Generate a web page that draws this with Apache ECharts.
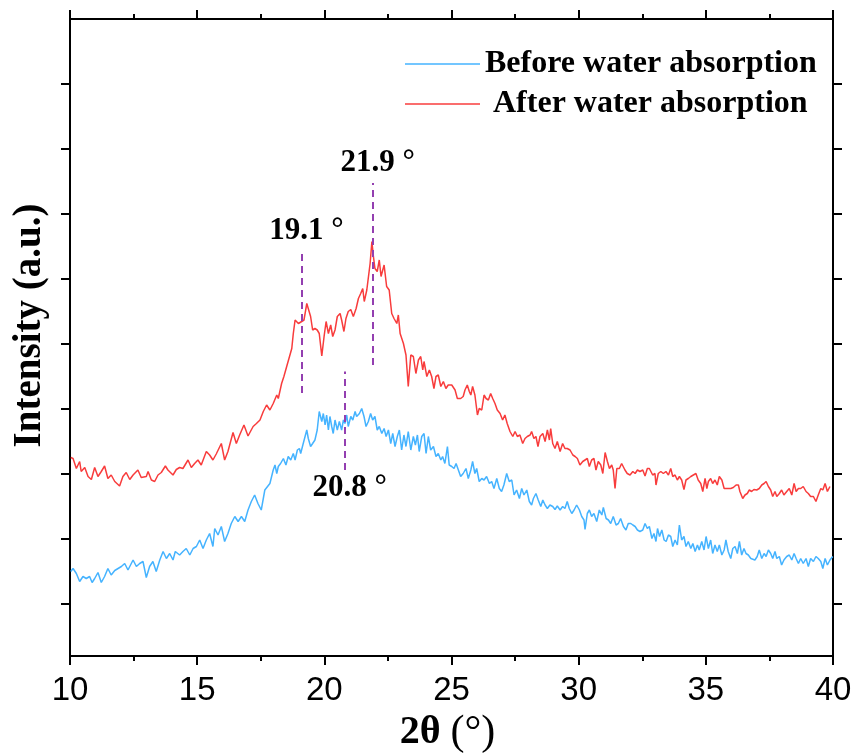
<!DOCTYPE html>
<html>
<head>
<meta charset="utf-8">
<script src="https://cdn.jsdelivr.net/npm/echarts@6/dist/echarts.min.js"></script>
<style>html,body{margin:0;padding:0;background:#fff}#c{width:858px;height:753px}</style>
</head>
<body>
<div id="c"></div>
<script>
// ---- Data (2θ in degrees, intensity in arbitrary units) ----
const beforeX = [
10.03,10.12,10.25,10.38,10.51,10.64,10.77,10.87,10.97,11.10,
11.23,11.36,11.49,11.62,11.76,11.89,12.02,12.15,12.28,12.48,
12.61,12.74,12.87,13.00,13.13,13.26,13.39,13.53,13.66,13.79,
13.92,14.05,14.14,14.31,14.44,14.57,14.71,14.84,14.97,15.10,
15.23,15.36,15.49,15.62,15.69,15.82,15.95,16.08,16.21,16.34,
16.48,16.61,16.74,16.87,17.00,17.13,17.26,17.39,17.52,17.66,
17.86,17.99,18.06,18.13,18.19,18.28,18.39,18.49,18.58,18.68,
18.78,18.85,18.94,19.02,19.07,19.17,19.31,19.37,19.46,19.54,
19.63,19.72,19.80,19.90,19.96,20.03,20.09,20.16,20.22,20.29,
20.35,20.42,20.51,20.59,20.68,20.75,20.81,20.88,20.94,21.04,
21.12,21.21,21.27,21.38,21.47,21.56,21.64,21.73,21.82,21.90,
21.99,22.08,22.16,22.26,22.35,22.43,22.52,22.61,22.69,22.78,
22.87,22.95,23.04,23.13,23.21,23.30,23.40,23.50,23.58,23.66,
23.73,23.83,23.92,24.00,24.09,24.18,24.29,24.39,24.48,24.58,
24.65,24.74,24.84,24.91,
25.01,25.10,25.18,25.27,25.36,
25.46,25.57,25.66,25.76,25.83,25.92,25.99,26.09,26.19,26.28,
26.38,26.49,26.58,26.67,26.78,26.88,26.97,27.06,27.17,27.27,
27.37,27.46,27.56,27.67,27.76,27.85,27.96,28.06,28.15,28.22,
28.32,28.41,28.51,28.59,28.68,28.77,28.87,28.98,29.07,29.16,
29.27,29.37,29.46,29.55,29.63,29.73,29.82,29.92,30.03,30.12,
30.21,30.25,30.34,30.42,30.51,30.60,30.71,30.81,30.91,30.97,
31.08,31.17,31.26,31.36,31.47,31.56,31.65,31.76,31.86,31.95,
32.05,32.13,32.22,32.31,32.41,32.52,32.61,32.70,32.78,32.88,
32.96,33.04,33.10,33.18,33.27,33.36,33.44,33.53,33.62,33.70,
33.79,33.88,33.96,34.05,34.14,34.22,34.31,34.41,34.49,34.58,
34.67,34.74,34.84,34.93,35.01,35.10,35.19,35.27,35.36,35.45,
35.53,35.63,35.72,35.79,35.88,35.98,36.06,36.15,36.24,36.32,
36.41,36.50,36.58,36.67,36.77,36.84,36.93,37.02,37.10,37.20,
37.29,37.37,37.46,37.55,37.63,37.72,37.79,37.89,37.98,38.07,
38.18,38.28,38.38,38.47,38.55,38.64,38.73,38.83,38.94,39.03,
39.12,39.23,39.33,39.42,39.52,39.60,39.69,39.78,39.88,39.99
];
const beforeY = [
169,175,165,149,159,155,159,147,155,167,
147,159,175,162,171,175,179,185,172,192,
179,185,189,157,179,189,169,192,209,195,
205,192,209,202,209,215,202,215,219,232,
215,232,245,219,255,242,259,229,245,265,
279,269,279,269,292,309,322,305,292,332,
345,372,382,365,379,385,395,382,399,392,
405,392,412,415,405,425,452,435,419,425,
432,452,489,469,485,462,482,452,479,459,
445,472,452,469,452,472,465,482,459,479,
472,489,479,485,495,479,459,469,485,472,
479,452,459,445,455,439,452,425,445,419,
439,452,412,442,419,449,412,439,422,442,
409,439,445,405,439,412,419,399,405,392,
399,385,419,382,
379,375,385,372,359,
365,375,355,372,389,365,375,349,355,352,
359,345,349,335,355,335,329,342,365,349,
352,322,332,315,335,322,332,309,302,315,
325,312,299,312,302,295,302,299,293,300,
292,299,295,309,295,285,292,302,292,279,
272,253,285,292,279,285,269,292,282,297,
275,272,265,279,262,265,275,259,252,265,
265,262,259,252,249,252,265,255,259,235,
245,229,255,239,252,232,229,242,239,219,
232,222,262,232,239,219,229,215,225,209,
222,212,229,212,239,215,232,205,222,209,
222,202,212,232,209,195,215,219,205,229,
202,215,205,202,195,199,192,199,212,195,
205,199,212,205,195,209,195,199,182,192,
199,202,192,205,195,185,195,185,195,179,
195,189,199,195,189,175,195,182,192,199
];
const afterX = [
10.03,10.12,10.25,10.38,10.44,10.58,10.71,10.84,10.97,11.10,
11.23,11.36,11.49,11.62,11.76,11.95,12.08,12.21,12.35,12.48,
12.67,12.80,13.00,13.07,13.20,13.33,13.46,13.59,13.75,13.85,
14.05,14.18,14.31,14.44,14.64,14.77,14.90,15.03,15.16,15.36,
15.49,15.62,15.75,15.95,16.08,16.21,16.41,16.54,16.67,16.84,
17.00,17.20,17.33,17.47,17.60,17.73,17.86,17.99,18.13,18.19,
18.32,18.41,18.52,18.58,18.72,18.78,18.85,18.98,19.11,19.20,
19.31,19.37,19.46,19.54,19.63,19.72,19.80,19.90,19.99,20.07,
20.16,20.25,20.33,20.42,20.51,20.62,20.68,20.77,20.85,20.94,
21.04,21.14,21.25,21.34,21.43,21.51,21.57,21.67,21.80,21.87,
21.93,21.99,22.08,22.16,22.23,22.35,22.45,22.55,22.65,22.74,
22.85,22.91,22.98,23.11,23.21,23.30,23.40,23.50,23.60,23.70,
23.79,23.87,23.92,24.03,24.13,24.22,24.31,24.39,24.48,24.58,
24.68,24.78,24.87,25.01,25.14,25.23,25.36,25.46,25.53,25.62,
25.70,25.76,25.83,25.92,26.02,26.09,26.19,26.28,26.36,26.45,
26.54,26.62,26.71,26.80,26.91,27.01,27.10,27.19,27.30,27.41,
27.50,27.59,27.69,27.80,27.89,27.98,28.09,28.15,28.24,28.32,
28.40,28.48,28.59,28.68,28.77,28.85,28.90,28.98,29.07,29.16,
29.27,29.37,29.46,29.55,29.66,29.77,29.86,29.95,30.05,30.16,
30.25,30.34,30.42,30.51,30.60,30.68,30.77,30.87,30.95,31.04,
31.13,31.21,31.30,31.36,31.43,31.50,31.60,31.69,31.76,31.82,
31.91,32.02,32.13,32.22,32.31,32.41,32.52,32.61,32.70,32.78,
32.91,33.00,33.04,33.13,33.23,33.33,33.43,33.53,33.62,33.70,
33.79,33.88,33.96,34.05,34.14,34.22,34.31,34.41,34.51,34.61,
34.70,34.80,34.88,34.97,35.04,35.10,35.19,35.27,35.36,35.45,
35.53,35.63,35.72,35.79,35.88,35.98,36.08,36.19,36.28,36.34,
36.45,36.54,36.63,36.71,36.80,36.89,37.00,37.10,37.20,37.29,
37.37,37.46,37.55,37.63,37.72,37.79,37.89,37.98,38.07,38.18,
38.28,38.38,38.47,38.55,38.64,38.73,38.83,38.94,39.03,39.12,
39.23,39.33,39.42,39.52,39.60,39.69,39.78,39.88
];
const afterY = [
397,395,375,389,369,377,359,353,377,359,
369,380,355,362,349,340,359,367,353,362,
372,357,359,369,352,349,362,367,380,372,
362,373,377,375,392,377,385,392,382,409,
402,392,404,425,392,409,447,425,442,462,
440,459,465,472,489,502,492,505,522,515,
545,559,579,577,615,645,672,665,669,672,
705,709,679,652,655,652,645,600,639,669,
645,662,639,652,679,685,672,649,675,689,
693,679,695,715,725,735,709,732,785,829,
799,775,769,792,759,782,739,732,685,675,
665,682,645,625,602,539,602,599,565,592,
599,572,589,559,572,559,535,559,562,539,
549,535,542,542,532,515,515,519,532,542,
529,522,539,522,482,495,492,522,515,512,
525,515,505,492,485,472,482,465,449,439,
449,439,442,425,435,439,442,449,435,439,
419,439,445,429,452,432,455,425,415,429,
409,425,415,415,412,402,399,395,382,389,
392,395,379,392,395,372,389,382,365,407,
389,375,382,372,335,375,375,385,389,372,
365,362,369,365,372,369,372,360,375,375,
362,365,342,365,369,365,369,362,375,359,
362,352,359,352,333,352,355,359,362,365,
352,345,329,355,335,349,355,345,352,342,
359,352,335,335,335,335,337,342,342,329,
315,322,325,332,329,333,332,335,342,345,
349,339,332,319,329,319,325,332,322,329,
335,322,345,329,335,335,339,329,325,319,
319,309,322,335,332,345,329,339
];
const seriesNames = ['Before water absorption', 'After water absorption'];
const xTickLabelsRange = [10, 40, 5];           // min, max, interval
const intensityRange = [0, 1274];
const intensityTicks = [104, 234, 364, 494, 624, 754, 884, 1014, 1144];
// peak annotations
const peakPositions = [19.1, 21.9, 20.8];
const peakLabels = ['19.1 °', '21.9 °', '20.8 °'];
const peakLineFrom = [526, 582, 372];
const peakLineTo = [812, 946, 569];
const peakLabelY = [819, 955, 305];

// ---- Chart ----
const SERIF = '"Liberation Serif","Times New Roman",serif';
const SANS = '"Liberation Sans",Arial,sans-serif';
const BLACK = '#000';
const axisLine = {show: true, onZero: false, lineStyle: {color: BLACK, width: 2}};

const xBase = {
  type: 'value', min: xTickLabelsRange[0], max: xTickLabelsRange[1], interval: xTickLabelsRange[2],
  axisLine: axisLine,
  axisTick: {show: true, inside: false, length: 9, lineStyle: {color: BLACK, width: 2}},
  minorTick: {show: true, splitNumber: 2, length: 5, lineStyle: {color: BLACK, width: 2}},
  splitLine: {show: false}, minorSplitLine: {show: false}
};
const yBase = {
  type: 'value', min: intensityRange[0], max: intensityRange[1],
  axisLine: axisLine,
  axisTick: {show: true, inside: false, length: 9, customValues: intensityTicks, lineStyle: {color: BLACK, width: 2}},
  axisLabel: {show: false},
  splitLine: {show: false}
};

const chart = echarts.init(document.getElementById('c'), null, {renderer: 'canvas'});
chart.setOption({
  animation: false,
  backgroundColor: '#fff',
  grid: {left: 70, right: 25, top: 19, bottom: 97, containLabel: false, outerBoundsMode: 'none'},
  legend: {
    data: seriesNames,
    orient: 'vertical',
    left: 400, top: 42,
    itemWidth: 75, itemHeight: 14, itemGap: 6,
    icon: 'path://M0,0 L75,0 L75,1.5 L0,1.5 Z',
    formatter: n => n === seriesNames[1] ? ' ' + n : n,
    textStyle: {fontFamily: SERIF, fontWeight: 'bold', fontSize: 32, color: BLACK, lineHeight: 34}
  },
  xAxis: [
    Object.assign({}, xBase, {
      position: 'bottom',
      axisLabel: {show: true, margin: 18, color: BLACK, fontFamily: SANS, fontSize: 33},
      name: '{a|2θ }{b|(°)}',
      nameLocation: 'middle', nameGap: 42,
      nameTextStyle: {
        color: BLACK, padding: [0, 8, 0, 0],
        rich: {
          a: {fontFamily: SERIF, fontWeight: 'bold', fontSize: 40, color: BLACK},
          b: {fontFamily: SERIF, fontWeight: 'normal', fontSize: 42, color: BLACK}
        }
      }
    }),
    Object.assign({}, xBase, {position: 'top', axisLabel: {show: false}})
  ],
  yAxis: [
    Object.assign({}, yBase, {
      position: 'left',
      name: 'Intensity (a.u.)', nameLocation: 'middle', nameGap: 21, nameRotate: 90,
      nameTextStyle: {fontFamily: SERIF, fontWeight: 'bold', fontSize: 39, color: BLACK, padding: [0, 0, 0, 24]}
    }),
    Object.assign({}, yBase, {position: 'right'})
  ],
  series: [
    {
      name: seriesNames[0], type: 'line', xAxisIndex: 0, yAxisIndex: 0,
      data: beforeX.map((x, i) => [x, beforeY[i]]),
      symbol: 'none', showSymbol: false,
      lineStyle: {color: '#45B3FF', width: 1.5}, itemStyle: {color: '#45B3FF'}
    },
    {
      name: seriesNames[1], type: 'line', xAxisIndex: 0, yAxisIndex: 0,
      data: afterX.map((x, i) => [x, afterY[i]]),
      symbol: 'none', showSymbol: false,
      lineStyle: {color: '#F83C3C', width: 1.5}, itemStyle: {color: '#F83C3C'}
    },
    {
      name: 'peaks', type: 'scatter', xAxisIndex: 0, yAxisIndex: 0,
      symbolSize: 1, silent: true,
      itemStyle: {color: 'rgba(0,0,0,0)'},
      data: peakPositions.map((p, i) => ({value: [p, peakLabelY[i]], label: {formatter: peakLabels[i]}})),
      label: {show: true, position: 'top', distance: 0, offset: [5, 0], color: '#000', opacity: 1,
              textBorderWidth: 0,
              fontFamily: SERIF, fontWeight: 'bold', fontSize: 31},
      markLine: {
        silent: true, symbol: ['none', 'none'], label: {show: false},
        lineStyle: {color: '#933FB0', width: 2, type: [7, 5]},
        data: peakPositions.map((p, i) => [{coord: [p, peakLineFrom[i]]}, {coord: [p, peakLineTo[i]]}])
      }
    }
  ]
});
</script>
</body>
</html>
